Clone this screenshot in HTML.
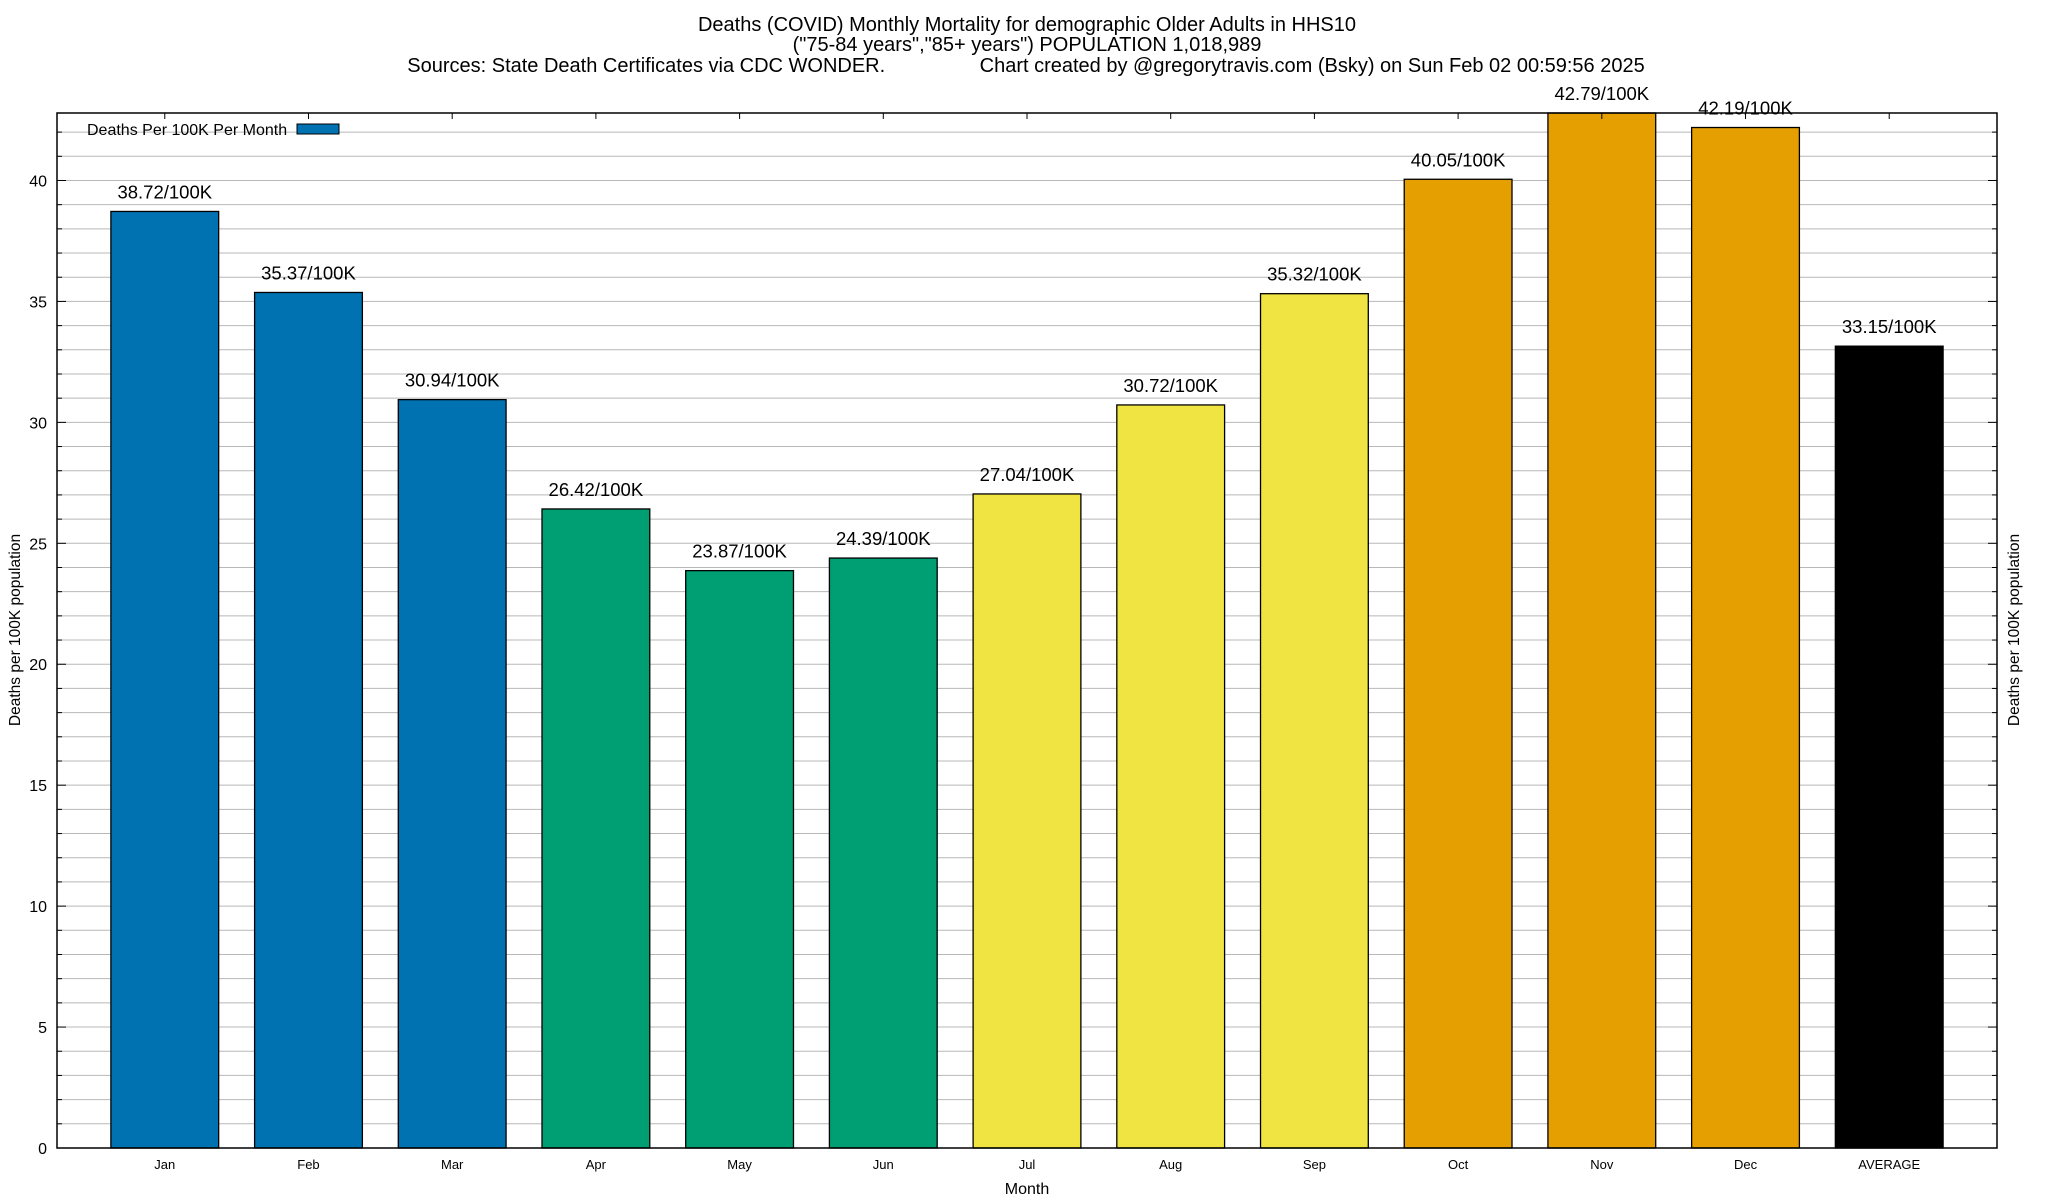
<!DOCTYPE html>
<html><head><meta charset="utf-8"><style>
html,body{margin:0;padding:0;background:#fff}
svg{display:block}
text{font-family:"Liberation Sans",Arial,sans-serif;fill:#000}
</style></head><body>
<svg id="chart" width="2048" height="1200" xmlns="http://www.w3.org/2000/svg">
<g font-size="20" text-anchor="middle">
<text x="1027" y="31">Deaths (COVID) Monthly Mortality for demographic Older Adults in HHS10</text>
<text x="1027" y="51">("75-84 years","85+ years") POPULATION 1,018,989</text>
<text x="1026" y="72" xml:space="preserve">Sources: State Death Certificates via CDC WONDER.                 Chart created by @gregorytravis.com (Bsky) on Sun Feb 02 00:59:56 2025</text>
</g>
<g id="grid"></g>
<g id="bars"></g>
<g id="axes"></g>
<text x="1027" y="1194" font-size="16" text-anchor="middle">Month</text>
<text transform="translate(20,630) rotate(-90)" font-size="15.5" text-anchor="middle">Deaths per 100K population</text>
<text transform="translate(2019,630) rotate(-90)" font-size="15.5" text-anchor="middle">Deaths per 100K population</text>
<g>
<text x="87" y="135" font-size="16">Deaths Per 100K Per Month</text>
<rect x="297" y="124" width="42" height="10" fill="#0072b2" stroke="#000" stroke-width="1"/>
</g>
</svg>
<script>
const categories = ["Jan","Feb","Mar","Apr","May","Jun","Jul","Aug","Sep","Oct","Nov","Dec","AVERAGE"];
const values = [38.72,35.37,30.94,26.42,23.87,24.39,27.04,30.72,35.32,40.05,42.79,42.19,33.15];
const colors = ["#0072b2","#0072b2","#0072b2","#009e73","#009e73","#009e73","#f0e442","#f0e442","#f0e442","#e69f00","#e69f00","#e69f00","#000000"];
const yTicks = [0,5,10,15,20,25,30,35,40];
const yMax = 42.79;

const NS = "http://www.w3.org/2000/svg";
const L = 57, R = 1997, T = 113, B = 1148;
const xMin = -0.75, xMax = 12.75;
function xs(v){ return L + (v - xMin) / (xMax - xMin) * (R - L); }
function ys(v){ return B - v / yMax * (B - T); }
function mk(tag, attrs, parent){
  const e = document.createElementNS(NS, tag);
  for (const k in attrs) e.setAttribute(k, attrs[k]);
  parent.appendChild(e);
  return e;
}
const grid = document.getElementById("grid");
const bars = document.getElementById("bars");
const axes = document.getElementById("axes");

for (let v = 1; v < yMax; v++) {
  const y = ys(v);
  const gl = mk("line", {x1: L, x2: R, y1: y, y2: y, stroke: "#b8b8b8", "stroke-width": 1}, grid);
  
  
  const major = v % 5 === 0;
  const tl = mk("line", {x1: L, x2: L + (major ? 9 : 5), y1: y, y2: y, stroke: "#000", "stroke-width": 1}, axes);
  
  
  const tr = mk("line", {x1: R, x2: R - (major ? 9 : 5), y1: y, y2: y, stroke: "#000", "stroke-width": 1}, axes);
  
  
}
yTicks.forEach(v => {
  const t = mk("text", {x: L - 10, y: ys(v) + 6, "font-size": 16, "text-anchor": "end"}, axes);
  t.textContent = v;
  
  
});
const bw = 0.75;
categories.forEach((c, i) => {
  const x0 = xs(i - bw/2), x1 = xs(i + bw/2);
  const y = ys(values[i]);
  const r = mk("rect", {x: x0, y: y, width: x1 - x0, height: B - y, fill: colors[i], stroke: "#000", "stroke-width": 1.3}, bars);
  
  
  const lb = mk("text", {x: xs(i), y: y - 13, "font-size": 18.5, "text-anchor": "middle"}, bars);
  lb.textContent = values[i].toFixed(2) + "/100K";
  
  
  const tk = mk("text", {x: xs(i), y: 1169, "font-size": 13, "text-anchor": "middle"}, axes);
  tk.textContent = c;
  
  
  const tt = mk("line", {x1: xs(i), x2: xs(i), y1: T, y2: T + 6, stroke: "#000", "stroke-width": 1}, axes);
  
  
});
const frame = mk("rect", {x: L, y: T, width: R - L, height: B - T, fill: "none", stroke: "#000", "stroke-width": 1.5}, axes);


</script>
</body></html>
